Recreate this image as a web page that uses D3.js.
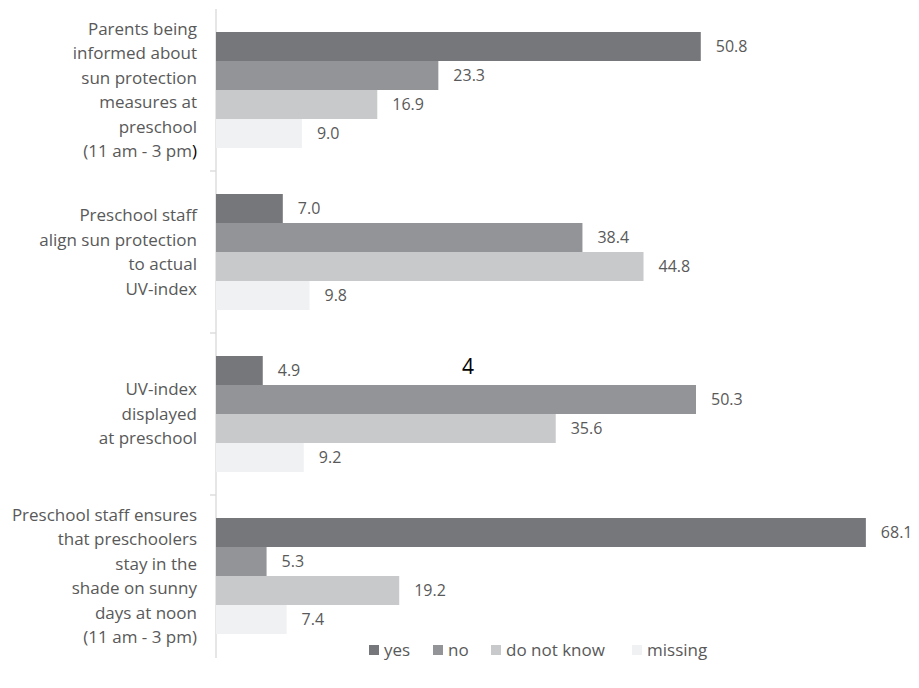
<!DOCTYPE html>
<html lang="en">
<head>
<meta charset="utf-8">
<title>Sun protection at preschool</title>
<script src="https://cdn.jsdelivr.net/npm/d3@7/dist/d3.min.js"></script>
<style>
  body { margin: 0; background: #fff; }
  text { font-family: "Open Sans", sans-serif; }
</style>
</head>
<body>
<div id="chart"></div>
<script>
// data
var categories = ["parents", "align", "display", "shade"];
var categoryLines = [
  ["Parents being", "informed about", "sun protection", "measures at", "preschool", "(11 am - 3 pm)"],
  ["Preschool staff", "align sun protection", "to actual", "UV-index"],
  ["UV-index", "displayed", "at preschool"],
  ["Preschool staff ensures", "that preschoolers", "stay in the", "shade on sunny", "days at noon", "(11 am - 3 pm)"]
];
var series = ["yes", "no", "do not know", "missing"];
var yes = [50.8, 7.0, 4.9, 68.1];
var no = [23.3, 38.4, 50.3, 5.3];
var dontKnow = [16.9, 44.8, 35.6, 19.2];
var missing = [9.0, 9.8, 9.2, 7.4];
var colors = ["#76777b", "#939498", "#c8c9cb", "#f0f1f3"];

var values = [yes, no, dontKnow, missing];

var w = 919, h = 688;
var svg = d3.select("#chart").append("svg")
  .attr("width", w)
  .attr("height", h);

var x = d3.scaleLinear().domain([0, 70]).range([216, 884]);
var y0 = d3.scaleBand().domain(categories).range([9, 657]);
var y1 = d3.scaleBand().domain(series).range([23, y0.bandwidth() - 23]);

// axis line + ticks between groups
svg.append("line")
  .attr("x1", 216).attr("x2", 216)
  .attr("y1", 9).attr("y2", 658)
  .attr("stroke", "#d9d9d9").attr("stroke-width", 1.3);
svg.selectAll("line.tick")
  .data(categories.slice(1))
  .enter().append("line")
  .attr("class", "tick")
  .attr("x1", 210).attr("x2", 216)
  .attr("y1", function(d){ return y0(d); })
  .attr("y2", function(d){ return y0(d); })
  .attr("stroke", "#d9d9d9").attr("stroke-width", 1.3);

var groups = svg.selectAll("g.grp")
  .data(categories)
  .enter().append("g")
  .attr("class", "grp")
  .attr("transform", function(d){ return "translate(0," + y0(d) + ")"; });

groups.each(function(c, ci) {
  var g = d3.select(this);
  series.forEach(function(s, si) {
    var v = values[si][ci];
    g.append("rect")
      .attr("x", x(0))
      .attr("y", y1(s))
      .attr("width", x(v) - x(0))
      .attr("height", y1.bandwidth())
      .attr("fill", colors[si]);
    g.append("text")
      .attr("x", x(v) + 15)
      .attr("y", y1(s) + y1.bandwidth() / 2)
      .attr("dy", "0.35em")
      .attr("font-size", 16)
      .attr("fill", "#595959")
      .text(v.toFixed(1));
  });
  // category label
  var lines = categoryLines[ci];
  var lh = 24.5;
  var mid = y0.bandwidth() / 2;
  var t = g.append("text")
    .attr("text-anchor", "end")
    .attr("font-size", 17)
    .attr("fill", "#595959");
  lines.forEach(function(l, li) {
    var ty = mid + (li - (lines.length - 1) / 2) * lh;
    if (ci === 0 && li === lines.length - 1) {
      t.append("tspan").attr("x", 197).attr("y", ty).attr("dy", "0.35em")
        .text(l.slice(0, -1));
      t.append("tspan").attr("fill", "#000").text(")");
    } else {
      t.append("tspan").attr("x", 197).attr("y", ty).attr("dy", "0.35em").text(l);
    }
  });
});

// stray figure number
svg.append("text")
  .attr("x", 468).attr("y", 367)
  .attr("dy", "0.35em")
  .attr("text-anchor", "middle")
  .attr("font-size", 21)
  .attr("fill", "#000")
  .text("4");

// legend
var legendX = [369, 433, 491, 632];
var legend = svg.selectAll("g.leg")
  .data(series)
  .enter().append("g")
  .attr("class", "leg")
  .attr("transform", function(d, i){ return "translate(" + legendX[i] + ",650)"; });
legend.append("rect")
  .attr("x", 0).attr("y", -5)
  .attr("width", 10).attr("height", 10)
  .attr("fill", function(d, i){ return colors[i]; });
legend.append("text")
  .attr("x", 15).attr("y", 0)
  .attr("dy", "0.35em")
  .attr("font-size", 17)
  .attr("fill", "#595959")
  .text(function(d){ return d; });
</script>
</body>
</html>
